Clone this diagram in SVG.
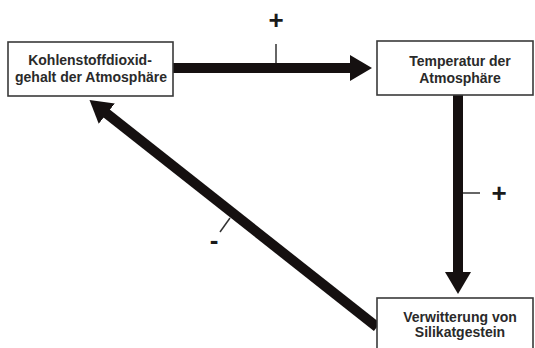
<svg xmlns="http://www.w3.org/2000/svg" width="535" height="348" viewBox="0 0 535 348">
<style>
.box{fill:#fff;stroke:#3a3a3a;stroke-width:1.6}
.lbl{font-family:"Liberation Sans",Arial,sans-serif;font-weight:bold;font-size:14px;fill:#2a2a2a;text-anchor:middle}
.sign{font-family:"Liberation Sans",Arial,sans-serif;font-weight:bold;font-size:26px;fill:#1a1a1a;text-anchor:middle}
.shaft{stroke:#151010;stroke-width:10;fill:none}
.tick{stroke:#333;stroke-width:1.5;fill:none}
</style>
<defs>
<marker id="head" markerUnits="userSpaceOnUse" markerWidth="23" markerHeight="26" refX="1" refY="13" orient="auto" viewBox="0 0 23 26">
<path d="M0,0 L22,13 L0,26 z" fill="#151010"/>
</marker>
</defs>
<rect width="535" height="348" fill="#fff"/>
<g id="connectors">
<line class="shaft" x1="173" y1="68" x2="351" y2="68" marker-end="url(#head)"/>
<line class="tick" x1="276" y1="44" x2="276" y2="63"/>
<text class="sign" x="276" y="29">+</text>
<line class="shaft" x1="458" y1="95" x2="458" y2="273" marker-end="url(#head)"/>
<line class="tick" x1="463" y1="193" x2="480" y2="193"/>
<text class="sign" x="499" y="202">+</text>
<line class="shaft" x1="377" y1="327" x2="106" y2="113" marker-end="url(#head)"/>
<line class="tick" x1="230" y1="218" x2="220" y2="232"/>
<text class="sign" x="214" y="249">-</text>
</g>
<g id="node-co2">
<rect class="box" x="8" y="42" width="165" height="54"/>
<text class="lbl" x="90" y="65">Kohlenstoffdioxid-</text>
<text class="lbl" x="91" y="82">gehalt der Atmosphäre</text>
</g>
<g id="node-temp">
<rect class="box" x="377" y="41" width="156" height="54"/>
<text class="lbl" x="460" y="66">Temperatur der</text>
<text class="lbl" x="460" y="83">Atmosphäre</text>
</g>
<g id="node-verwitterung">
<rect class="box" x="377" y="298" width="156" height="60"/>
<text class="lbl" x="460" y="322">Verwitterung von</text>
<text class="lbl" x="460" y="337">Silikatgestein</text>
</g>
</svg>
